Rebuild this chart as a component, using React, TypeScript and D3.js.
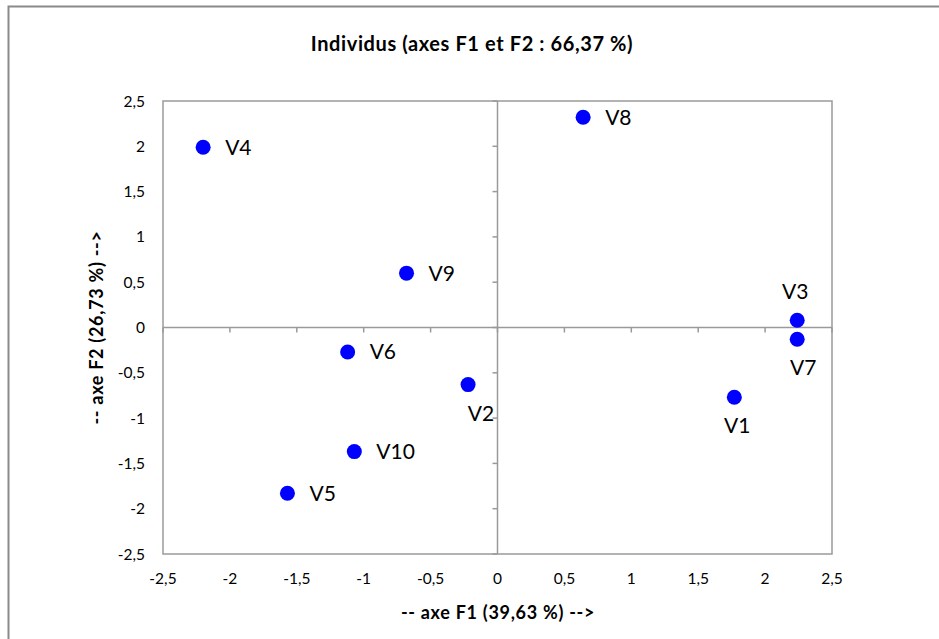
import React from "react";
import * as d3 from "d3";

const labels = ["V1", "V2", "V3", "V4", "V5", "V6", "V7", "V8", "V9", "V10"];
const f1 = [1.77, -0.22, 2.24, -2.2, -1.57, -1.12, 2.24, 0.64, -0.68, -1.07];
const f2 = [-0.77, -0.63, 0.08, 1.99, -1.83, -0.27, -0.13, 2.32, 0.6, -1.37];
// where each label sits relative to its point
const labelPos = ["below", "below", "above", "right", "right", "right", "below", "right", "right", "right"];
const ticks = [-2.5, -2, -1.5, -1, -0.5, 0, 0.5, 1, 1.5, 2, 2.5];

const W = 939;
const H = 639;
const left = 163;
const right = 832;
const top = 101;
const bottom = 554;
const font = "Lato, 'Open Sans', sans-serif";
const fmt = (v: number) => String(v).replace(".", ",");

export default function App() {
  const x = d3.scaleLinear().domain([-2.5, 2.5]).range([left, right]);
  const y = d3.scaleLinear().domain([-2.5, 2.5]).range([bottom, top]);
  const x0 = x(0);
  const y0 = y(0);
  const grey = "#9a9a9a";

  return (
    <div style={{ position: "fixed", left: 0, top: 0 }}>
      <svg width={W} height={H} style={{ display: "block", background: "#fff" }}>
        <rect x={8.5} y={6.5} width={W + 20} height={H + 20} fill="#fff" stroke="#8a8a8a" strokeWidth={2} />
        <text x={472} y={51} textAnchor="middle" fontFamily={font} fontWeight="bold" fontSize={20} letterSpacing={0.6} fill="#000">
          Individus (axes F1 et F2 : 66,37 %)
        </text>

        {/* frame */}
        <rect x={left} y={top} width={right - left} height={bottom - top} fill="none" stroke={grey} strokeWidth={1.5} />

        {/* zero axes */}
        <line x1={left} x2={right} y1={y0} y2={y0} stroke={grey} strokeWidth={1.5} />
        <line x1={x0} x2={x0} y1={top} y2={bottom} stroke={grey} strokeWidth={1.5} />
        {ticks.map((t) => (
          <line key={"xt" + t} x1={x(t)} x2={x(t)} y1={y0} y2={y0 + 5} stroke={grey} strokeWidth={1.5} />
        ))}
        {ticks.map((t) => (
          <line key={"yt" + t} x1={x0 - 5} x2={x0} y1={y(t)} y2={y(t)} stroke={grey} strokeWidth={1.5} />
        ))}

        {/* tick labels */}
        {ticks.map((t) => (
          <text key={"xl" + t} x={x(t)} y={584} textAnchor="middle" fontFamily={font} fontSize={15.5} fill="#000">
            {fmt(t)}
          </text>
        ))}
        {ticks.map((t) => (
          <text key={"yl" + t} x={145} y={y(t) + 5.5} textAnchor="end" fontFamily={font} fontSize={15.5} fill="#000">
            {fmt(t)}
          </text>
        ))}

        {/* axis titles */}
        <text x={498} y={619} textAnchor="middle" fontFamily={font} fontWeight="bold" fontSize={18} letterSpacing={0.7} fill="#000">
          -- axe F1 (39,63 %) --&gt;
        </text>
        <text
          transform={`translate(103, ${(top + bottom) / 2}) rotate(-90)`}
          textAnchor="middle"
          fontFamily={font}
          fontWeight="bold"
          fontSize={18}
          letterSpacing={0.7}
          fill="#000"
        >
          -- axe F2 (26,73 %) --&gt;
        </text>

        {/* points */}
        {labels.map((l, i) => {
          const px = x(f1[i]);
          const py = y(f2[i]);
          const pos = labelPos[i];
          let lx = px + 22;
          let ly = py + 7.5;
          let anchor = "start";
          if (pos === "below") {
            lx = px + 3;
            ly = py + 36;
            anchor = "middle";
          } else if (pos === "above") {
            lx = px - 2;
            ly = py - 21;
            anchor = "middle";
          }
          if (l === "V2") lx = px + 13;
          if (l === "V7") lx = px + 6;
          return (
            <g key={l}>
              <circle cx={px} cy={py} r={7.5} fill="#0000ff" />
              <text x={lx} y={ly} textAnchor={anchor} fontFamily={font} fontSize={21} fill="#000">
                {l}
              </text>
            </g>
          );
        })}
      </svg>
    </div>
  );
}
